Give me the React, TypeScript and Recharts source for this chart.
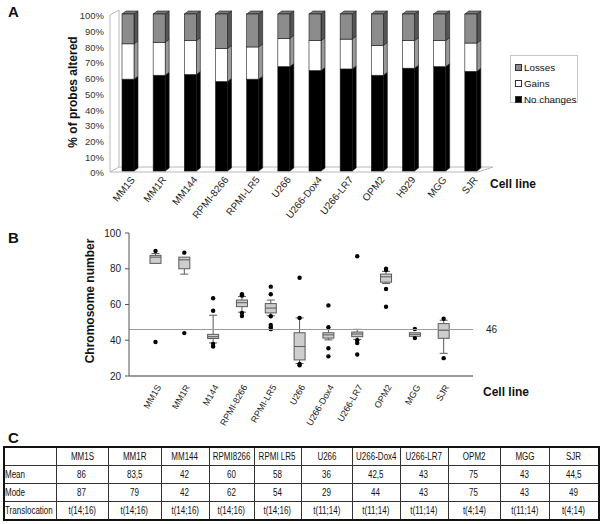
import React from "react";
import {
  BarChart,
  Bar,
  XAxis,
  YAxis,
  ComposedChart,
  ReferenceLine,
  ReferenceArea,
} from "recharts";

// ── Fonts ─────────────────────────────────────────────────────────────────────

const FONT = '"Liberation Sans", Arial, sans-serif';

// ── Panel A data (% of probes altered) ───────────────────────────────────────

const probeLines = [
  "MM1S", "MM1R", "MM144", "RPMI-8266", "RPMI-LR5", "U266",
  "U266-Dox4", "U266-LR7", "OPM2", "H929", "MGG", "SJR",
];
const noChanges = [58.5, 61, 61.5, 57, 58.5, 66.5, 64, 65, 61, 65.5, 66.5, 63.5];
const gains = [22.5, 21, 21.5, 21, 20.5, 18, 19, 19, 19, 17.5, 16.5, 18];
const losses = [19, 18, 17, 22, 21, 15.5, 17, 16, 20, 17, 17, 18.5];
const pctTicks = [0, 10, 20, 30, 40, 50, 60, 70, 80, 90, 100];

// ── Panel B data (chromosome number box plots) ───────────────────────────────

const boxLines = [
  "MM1S", "MM1R", "M144", "RPMI-8266", "RPMI-LR5", "U266",
  "U266-Dox4", "U266-LR7", "OPM2", "MGG", "SJR",
];
const whiskerLow = [83, 77, 38.5, 55.7, 53.7, 27, 40.2, 40.5, 71.7, 42.2, 32.7];
const quartile1 = [83, 80, 41, 58.8, 55.3, 29, 41.2, 42, 72.5, 42.2, 41.1];
const medians = [86.5, 85, 42, 61, 58, 36.5, 43, 43.5, 75.5, 43.3, 45.6];
const quartile3 = [87.5, 86.5, 43.3, 62.5, 60.5, 44.2, 44.2, 44.6, 77, 44.2, 49.3];
const whiskerHigh = [88.5, 86.5, 54, 64.5, 62.5, 52.5, 46, 46.1, 78.5, 44.2, 51.2];
const outliers = [
  [90, 39],
  [89, 44],
  [63.5, 56.5, 38, 36.5],
  [65.7, 65, 55.3, 53.5],
  [70, 65.7, 53.4, 48.5, 47.3, 46.2],
  [75, 52.5, 26.8, 26],
  [59.5, 47.3, 35.5, 31],
  [87, 40, 38.5, 32],
  [80, 79.3, 68.7, 58.7],
  [46.3, 41.2],
  [52, 30],
];
const chromTicks = [20, 40, 60, 80, 100];
const diploid = 46;

// ── Panel C data (table) ─────────────────────────────────────────────────────

const tableLines = [
  "MM1S", "MM1R", "MM144", "RPMI8266", "RPMI LR5", "U266",
  "U266-Dox4", "U266-LR7", "OPM2", "MGG", "SJR",
];
const meanRow = ["86", "83,5", "42", "60", "58", "36", "42,5", "43", "75", "43", "44,5"];
const modeRow = ["87", "79", "42", "62", "54", "29", "44", "43", "75", "43", "49"];
const transRow = [
  "t(14;16)", "t(14;16)", "t(14;16)", "t(14;16)", "t(14;16)", "t(11;14)",
  "t(11;14)", "t(11;14)", "t(4;14)", "t(11;14)", "t(4;14)",
];
const colWidths = [52, 52, 53, 48, 45, 47, 51, 48, 48, 52, 49, 50];

// ── Derived tables ───────────────────────────────────────────────────────────

const probeData = probeLines.map((name, i) => ({
  name,
  none: noChanges[i],
  gains: gains[i],
  losses: losses[i],
}));

const boxData = boxLines.map((name, i) => ({
  name,
  lo: whiskerLow[i],
  q1: quartile1[i],
  med: medians[i],
  q3: quartile3[i],
  hi: whiskerHigh[i],
  out: outliers[i],
}));

// ── 3D-ish bar segment ───────────────────────────────────────────────────────

const DEPTH = 4;
const RISE = 3;

function makeSegment(front: string, side: string, top?: string) {
  return (props: any) => {
    const { x, y, width, height } = props;
    if (!height) return null;
    const r = x + width;
    return (
      <g stroke="#1a1a1a" strokeWidth={0.6}>
        <polygon
          points={`${r},${y} ${r + DEPTH},${y - RISE} ${r + DEPTH},${y + height - RISE} ${r},${y + height}`}
          fill={side}
        />
        {top && (
          <polygon
            points={`${x},${y} ${x + DEPTH},${y - RISE} ${r + DEPTH},${y - RISE} ${r},${y}`}
            fill={top}
          />
        )}
        <rect x={x} y={y} width={width} height={height} fill={front} />
      </g>
    );
  };
}

const NoneShape = makeSegment("#000", "#000");
const GainShape = makeSegment("#fff", "#9a9a9a");
const LossShape = makeSegment("#8c8c8c", "#555", "#777");

function WallShape(props: any) {
  const { x, y, width, height } = props;
  const L = x - 2;
  const B = y + height;
  const R = x + width;
  return (
    <g fill="none" stroke="#b8b8b8" strokeWidth={1}>
      <polygon
        points={`${L},${y + 1} ${L + 9},${y - 4} ${L + 9},${B - 4} ${L},${B + 1}`}
        fill="#fff"
      />
      <polyline points={`${L + 9},${B - 4} ${R + 7},${B - 4} ${R - 8},${B + 1} ${L},${B + 1}`} />
    </g>
  );
}

function TickA(props: any) {
  const { x, y, payload } = props;
  const ax = x + 8;
  const ay = y + 1;
  return (
    <text
      x={ax}
      y={ay}
      transform={`rotate(-51, ${ax}, ${ay})`}
      textAnchor="end"
      fontSize={10}
      fill="#222"
      fontFamily={FONT}
    >
      {payload.value}
    </text>
  );
}

function TickB(props: any) {
  const { x, y, payload } = props;
  const ax = x + 6;
  const ay = y + 3;
  return (
    <text
      x={ax}
      y={ay}
      transform={`rotate(-60, ${ax}, ${ay})`}
      textAnchor="end"
      fontSize={9}
      fill="#222"
      fontFamily={FONT}
    >
      {payload.value}
    </text>
  );
}

// ── Box plot glyph (range bar q1..q3, rest scaled from it) ───────────────────

function BoxShape(props: any) {
  const { x, y, width, height, payload } = props;
  const { lo, q1, med, q3, hi, out } = payload;
  const k = height / (q3 - q1);
  const py = (v: number) => y + (q3 - v) * k;
  const cx = x + width / 2;
  const cap = 4;
  const stroke = "#5a5a5a";
  return (
    <g>
      {hi > q3 && (
        <g stroke={stroke} strokeWidth={1}>
          <line x1={cx} x2={cx} y1={py(hi)} y2={y} />
          <line x1={cx - cap} x2={cx + cap} y1={py(hi)} y2={py(hi)} />
        </g>
      )}
      {lo < q1 && (
        <g stroke={stroke} strokeWidth={1}>
          <line x1={cx} x2={cx} y1={y + height} y2={py(lo)} />
          <line x1={cx - cap} x2={cx + cap} y1={py(lo)} y2={py(lo)} />
        </g>
      )}
      <rect x={x} y={y} width={width} height={height} fill="#cdcdcd" stroke={stroke} strokeWidth={1} />
      <line x1={x} x2={x + width} y1={py(med)} y2={py(med)} stroke={stroke} strokeWidth={1} />
      {out.map((v: number, i: number) => (
        <circle key={i} cx={cx} cy={py(v)} r={2.2} fill="#000" />
      ))}
    </g>
  );
}

// ── Small text helpers ───────────────────────────────────────────────────────

const abs = (left: number, top: number, extra: React.CSSProperties = {}): React.CSSProperties => ({
  position: "absolute",
  left,
  top,
  fontFamily: FONT,
  whiteSpace: "nowrap",
  color: "#111",
  ...extra,
});

function Rotated({ cx, cy, size, children }: { cx: number; cy: number; size: number; children: React.ReactNode }) {
  return (
    <div
      style={abs(cx, cy, {
        transform: "translate(-50%, -50%) rotate(-90deg)",
        fontSize: size,
        fontWeight: "bold",
        lineHeight: 1,
      })}
    >
      {children}
    </div>
  );
}

// Narrow table text: the original used a condensed face
function Narrow({ children, left }: { children: React.ReactNode; left?: boolean }) {
  return (
    <div style={{ display: "flex", justifyContent: left ? "flex-start" : "center", overflow: "visible" }}>
      <span
        style={{
          display: "inline-block",
          whiteSpace: "nowrap",
          transform: "scaleX(0.8)",
          transformOrigin: left ? "left center" : "center center",
        }}
      >
        {children}
      </span>
    </div>
  );
}

const legendItems = [
  { label: "Losses", fill: "#8c8c8c" },
  { label: "Gains", fill: "#fff" },
  { label: "No changes", fill: "#000" },
];

// ── Main ─────────────────────────────────────────────────────────────────────

export default function App() {
  const cell: React.CSSProperties = {
    border: "1px solid #333",
    height: 17,
    padding: 0,
    fontFamily: FONT,
    fontSize: 10,
    color: "#111",
    overflow: "visible",
  };
  const rows = [
    { label: "Mean", values: meanRow },
    { label: "Mode", values: modeRow },
    { label: "Translocation", values: transRow },
  ];

  return (
    <div style={{ position: "absolute", left: 0, top: 0, width: 603, height: 524, background: "#fff", overflow: "hidden" }}>
      {/* Panel A */}
      <div style={abs(0, 0)}>
        <BarChart
          width={603}
          height={250}
          data={probeData}
          margin={{ top: 14, right: 117, bottom: 9, left: 72 }}
        >
          <ReferenceArea y1={0} y2={100} shape={WallShape} ifOverflow="visible" />
          <XAxis
            dataKey="name"
            interval={0}
            height={70}
            axisLine={false}
            tickLine={false}
            tick={TickA}
          />
          <YAxis
            width={40}
            domain={[0, 100]}
            ticks={pctTicks}
            tickFormatter={(v) => `${v}%`}
            axisLine={false}
            tickLine={false}
            tick={{ fontSize: 9.5, fill: "#333", fontFamily: FONT, dy: 2 }}
          />
          <Bar dataKey="none" stackId="a" barSize={12} shape={NoneShape} isAnimationActive={false} />
          <Bar dataKey="gains" stackId="a" barSize={12} shape={GainShape} isAnimationActive={false} />
          <Bar dataKey="losses" stackId="a" barSize={12} shape={LossShape} isAnimationActive={false} />
        </BarChart>
      </div>

      <div style={abs(8, 3, { fontSize: 15, fontWeight: "bold" })}>A</div>
      <Rotated cx={73} cy={92} size={12}>% of probes altered</Rotated>
      <div style={abs(490, 177, { fontSize: 12, fontWeight: "bold" })}>Cell line</div>

      <div
        style={abs(510, 55, {
          width: 68,
          height: 48,
          border: "1px solid #c8c8c8",
          background: "#fff",
          fontSize: 9.8,
          padding: "3px 0 0 4px",
          boxSizing: "border-box",
        })}
      >
        {legendItems.map((it) => (
          <div key={it.label} style={{ display: "flex", alignItems: "center", height: 16 }}>
            <span
              style={{
                display: "inline-block",
                width: 5,
                height: 5,
                background: it.fill,
                border: "1px solid #333",
                marginRight: 2,
              }}
            />
            {it.label}
          </div>
        ))}
      </div>

      {/* Panel B */}
      <div style={abs(0, 200)}>
        <ComposedChart
          width={603}
          height={250}
          data={boxData}
          margin={{ top: 33, right: 130, bottom: 14, left: 99 }}
        >
          <XAxis
            dataKey="name"
            interval={0}
            height={60}
            padding={{ left: 12, right: 15 }}
            axisLine={{ stroke: "#9a9a9a", strokeWidth: 2 }}
            tickLine={false}
            tick={TickB}
          />
          <YAxis
            width={30}
            domain={[20, 100]}
            ticks={chromTicks}
            axisLine={{ stroke: "#555" }}
            tickLine={{ stroke: "#555" }}
            tickSize={4}
            tickMargin={4}
            tick={{ fontSize: 10, fill: "#222", fontFamily: FONT }}
          />
          <ReferenceLine
            y={diploid}
            stroke="#9a9a9a"
            strokeWidth={1}
            label={{ value: String(diploid), position: "right", offset: 13, fontSize: 10, fill: "#222", fontFamily: FONT }}
          />
          <Bar
            dataKey={(d: any) => [d.q1, d.q3]}
            barSize={11}
            shape={BoxShape}
            isAnimationActive={false}
          />
        </ComposedChart>
      </div>

      <div style={abs(8, 229, { fontSize: 15, fontWeight: "bold" })}>B</div>
      <Rotated cx={90} cy={301} size={12}>Chromosome number</Rotated>
      <div style={abs(483, 385, { fontSize: 12, fontWeight: "bold" })}>Cell line</div>

      {/* Panel C */}
      <div style={abs(8, 429, { fontSize: 15, fontWeight: "bold" })}>C</div>
      <table
        style={{
          position: "absolute",
          left: 3,
          top: 446,
          width: 595,
          borderCollapse: "collapse",
          border: "2px solid #111",
          tableLayout: "fixed",
        }}
      >
        <colgroup>
          {colWidths.map((w, i) => (
            <col key={i} style={{ width: w }} />
          ))}
        </colgroup>
        <tbody>
          <tr>
            <td style={cell}></td>
            {tableLines.map((n) => (
              <td key={n} style={cell}><Narrow>{n}</Narrow></td>
            ))}
          </tr>
          {rows.map((r) => (
            <tr key={r.label}>
              <td style={cell}><Narrow left>{r.label}</Narrow></td>
              {r.values.map((v, i) => (
                <td key={i} style={cell}><Narrow>{v}</Narrow></td>
              ))}
            </tr>
          ))}
        </tbody>
      </table>
    </div>
  );
}
